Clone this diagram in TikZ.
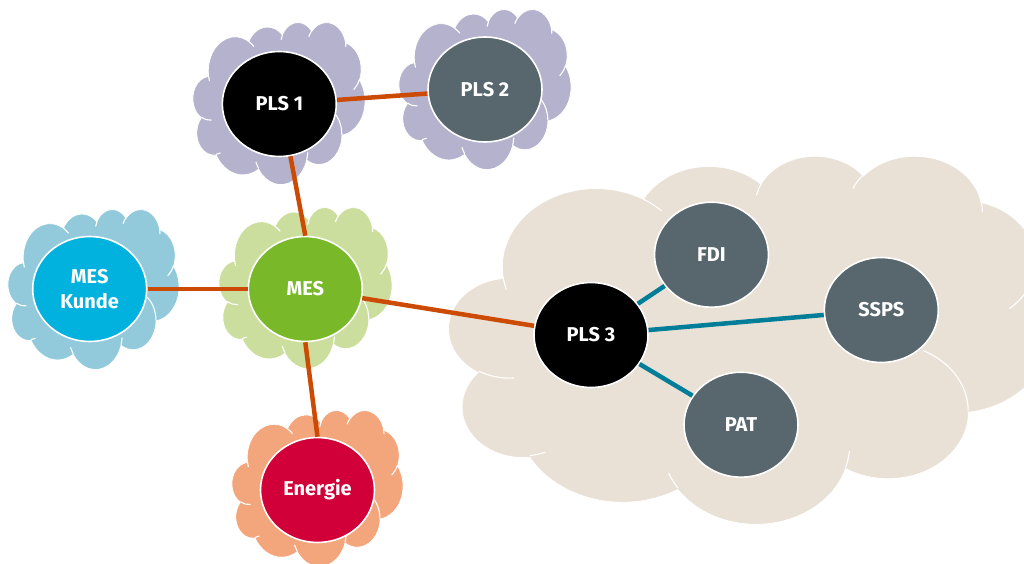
\documentclass[tikz,border=0pt]{standalone}
\usepackage{fontspec}
\setmainfont{Fira Sans}
\usetikzlibrary{shapes.geometric}

\definecolor{cLav}{HTML}{B4B2CD}
\definecolor{cBlue}{HTML}{92CADC}
\definecolor{cGreen}{HTML}{CCDE9E}
\definecolor{cSalmon}{HTML}{F3A57C}
\definecolor{cBeige}{HTML}{EAE1D6}
\definecolor{nSlate}{HTML}{58666E}
\definecolor{nCyan}{HTML}{00B2DD}
\definecolor{nGreen}{HTML}{79B829}
\definecolor{nRed}{HTML}{D10039}
\definecolor{lOrange}{HTML}{CC4B04}
\definecolor{lTeal}{HTML}{007E99}

\tikzset{
  % elliptical arc given by a visual start angle and sweep (path units 0..432)
  declare function={vis(\ang,\rx,\ry)=atan2(\rx*sin(\ang),\ry*cos(\ang));},
  ooarc/.style n args={4}{x radius=#1, y radius=#2,
    start angle={vis(#3,#1,#2)},
    delta angle={mod(vis(#3+#4,#1,#2)-vis(#3,#1,#2)+720,360)}},
  bub/.style={ellipse, draw=white, line width=1.6pt, minimum width=114pt,
    minimum height=105pt, inner sep=0pt, text=white, align=center,
    font=\bfseries\fontsize{20}{25}\selectfont},
  lnO/.style={draw=lOrange, line width=4.5pt},
  lnT/.style={draw=lTeal, line width=4.5pt},
}

% cloud shape: fill colour, left, top, width, height
\newcommand\pptcloud[5]{%
\begin{scope}[shift={(#2,#3)}, xscale=#4/432, yscale=#5/432]
  \filldraw[fill=#1, draw=white, line width=0.8pt] (39,143.7)
    arc[ooarc={67.53}{91.90}{-190.4875}{123.7805}]
    arc[ooarc={53.33}{72.67}{-144.1024}{89.9452}]
    arc[ooarc={43.65}{59.45}{-145.8079}{99.7230}]
    arc[ooarc={48.57}{65.95}{-130.9861}{117.2417}]
    arc[ooarc={53.33}{72.73}{-78.7089}{109.0269}]
    arc[ooarc={67.75}{92.20}{-46.2673}{130.2690}]
    arc[ooarc={57.85}{78.67}{0.6250}{114.0333}]
    arc[ooarc={67.52}{92.15}{22.4516}{115.1726}]
    arc[ooarc={77.20}{105.43}{66.2426}{75.7110}]
    arc[ooarc={43.60}{59.18}{-274.9421}{146.7356}]
    arc[ooarc={43.45}{59.45}{-246.8285}{152.5189}]
    -- cycle;
  \draw[white, line width=1.1pt]
    (46.93,261.77) arc[ooarc={43.45}{59.45}{86.7420}{26.4295}]
    (69.28,348.99) arc[ooarc={43.60}{59.18}{73.6105}{11.4475}]
    (164.78,390.90) arc[ooarc={67.52}{92.15}{137.6242}{14.0811}]
    (288.27,347.51) arc[ooarc={67.52}{92.15}{6.4533}{15.9984}]
    (341.29,229.54) arc[ooarc={57.85}{78.67}{-70.2924}{70.9174}]
    (417.98,153.54) arc[ooarc={53.33}{72.73}{30.3180}{27.7515}]
    (383.24,54.26) arc[ooarc={48.57}{65.95}{-13.7443}{14.8589}]
    (290.78,39.52) arc[ooarc={48.57}{65.95}{-149.1815}{18.1954}]
    (221.41,47.20) arc[ooarc={43.65}{59.45}{-163.4943}{17.6864}]
    (140.00,51.92) arc[ooarc={67.53}{91.90}{-66.7070}{12.3194}]
    (41.27,157.89) arc[ooarc={67.53}{91.90}{157.6544}{11.8582}];
\end{scope}}

\begin{document}
\begin{tikzpicture}[x=1pt, y=-1pt]
  \path[use as bounding box, clip] (0,0) rectangle (1024,564);

  % background clouds
  \pptcloud{cLav}{193}{22}{172}{162}
  \pptcloud{cLav}{399}{9}{172}{160}
  \pptcloud{cBlue}{8}{209}{171}{160}
  \pptcloud{cGreen}{219}{207}{173}{161}
  \pptcloud{cSalmon}{232}{410}{171}{156}
  \pptcloud{cBeige}{449}{155}{600}{368}

  % systems
  \node[bub, fill=black]  (pls1)  at (279.3,104)  {PLS 1};
  \node[bub, fill=nSlate] (pls2)  at (485,89.5)   {PLS 2};
  \node[bub, fill=nCyan]  (kunde) at (89.7,289)   {MES\\Kunde};
  \node[bub, fill=nGreen] (mes)   at (305.3,289)  {MES};
  \node[bub, fill=nRed]   (en)    at (317.5,490)  {Energie};
  \node[bub, fill=black]  (pls3)  at (591,335)    {PLS 3};
  \node[bub, fill=nSlate] (fdi)   at (711.5,254.7){FDI};
  \node[bub, fill=nSlate] (ssps)  at (881.3,310)  {SSPS};
  \node[bub, fill=nSlate] (pat)   at (741,424.7)  {PAT};

  % links
  \draw[lnO] (pls1) -- (pls2);
  \draw[lnO] (pls1.-78) -- (mes.north);
  \draw[lnO] (kunde) -- (mes);
  \draw[lnO] (mes) -- (pls3);
  \draw[lnO] (mes.south) -- (en.north);
  \draw[lnT] (pls3) -- (fdi);
  \draw[lnT] (pls3) -- (ssps);
  \draw[lnT] (pls3) -- (pat);
\end{tikzpicture}
\end{document}
